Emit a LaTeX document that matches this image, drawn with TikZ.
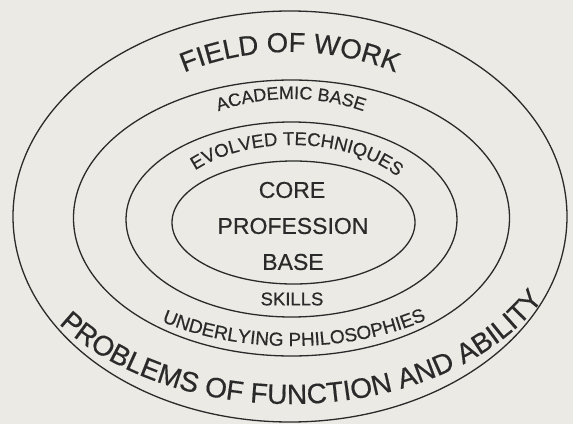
\documentclass[tikz,border=0pt]{standalone}
\usepackage{fontspec}
\setmainfont{Liberation Sans}[FakeBold=0.5]
\usetikzlibrary{decorations.text}
\definecolor{paper}{HTML}{EBEAE4}
\definecolor{ink}{HTML}{2A2A2A}

\tikzset{
  ring/.style={draw=ink, line width=1.3pt},
  arctext/.style 2 args={decorate, decoration={text along path,
      text align=center, text color=ink,
      text={|\fontsize{#1}{#1}\selectfont|#2}}},
  corelabel/.style={text=ink, font=\fontsize{23pt}{23pt}\selectfont, inner sep=0pt},
  smalllabel/.style={text=ink, font=\fontsize{18.5pt}{18.5pt}\selectfont, inner sep=0pt}
}

\begin{document}
\begin{tikzpicture}[x=1pt, y=1pt]
  % page
  \useasboundingbox (0,0) rectangle (573,424);
  \fill[paper] (0,0) rectangle (573,424);

  % concentric rings
  \draw[ring] (290,207.5) ellipse [x radius=277pt, y radius=205.5pt];
  \draw[ring] (291.5,206) ellipse [x radius=218pt, y radius=138pt];
  \draw[ring] (291.5,204.5) ellipse [x radius=165.5pt, y radius=97.5pt];
  \draw[ring] (293.5,201.5) ellipse [x radius=121.5pt, y radius=61.5pt];

  % upper ring labels
  \path[arctext={27.5pt}{FIELD OF WORK}]
    (290,208) ++(160:218pt and 164pt)
    arc[start angle=160, end angle=20, x radius=218pt, y radius=164pt];
  \path[arctext={18pt}{ACADEMIC BASE}]
    (291,206) ++(165:164pt and 119pt)
    arc[start angle=165, end angle=15, x radius=164pt, y radius=119pt];
  \path[arctext={18.5pt}{EVOLVED TECHNIQUES}]
    (292,204) ++(166:129pt and 75pt)
    arc[start angle=166, end angle=6, x radius=129pt, y radius=75pt];

  % core
  \node[corelabel] (core) at (292,234) {CORE};
  \node[corelabel] (prof) at (293,198) {PROFESSION};
  \node[corelabel] (base) at (293,162) {BASE};

  % lower ring labels
  \node[smalllabel] (skills) at (292,125) {SKILLS};
  \path[arctext={19pt}{UNDERLYING PHILOSOPHIES}]
    (292,204) ++(196:220pt and 126pt)
    arc[start angle=196, end angle=346, x radius=220pt, y radius=126pt];
  \path[arctext={28pt}{PROBLEMS OF FUNCTION AND ABILITY}]
    (290,208) ++(190:282pt and 188pt)
    arc[start angle=190, end angle=360, x radius=282pt, y radius=188pt];
\end{tikzpicture}
\end{document}
